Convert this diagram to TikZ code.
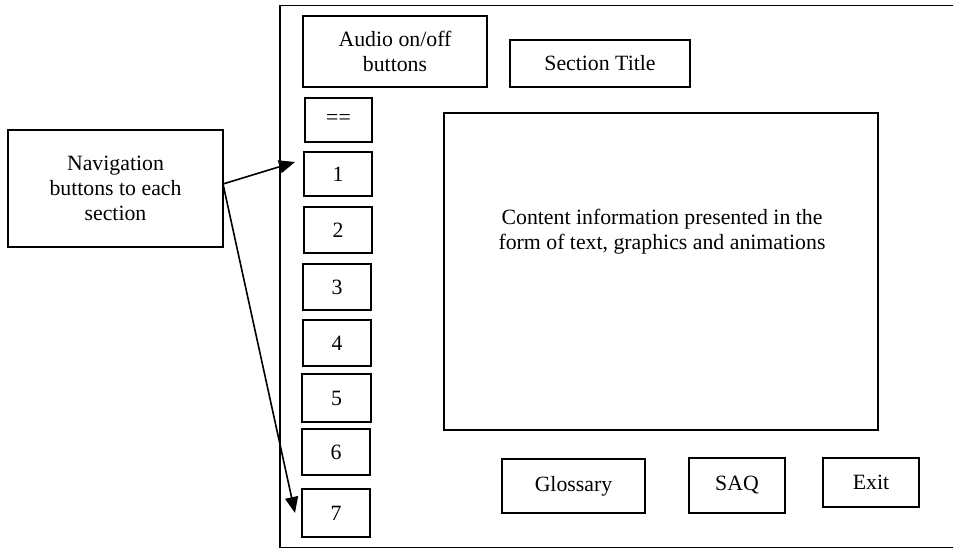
\documentclass[tikz,border=0pt]{standalone}
\usepackage{fontspec}
\setmainfont{Liberation Serif}
\usetikzlibrary{arrows.meta}
\tikzset{
  box/.style={draw, line width=1.6bp, inner sep=0pt, align=center, font=\fontsize{21.8bp}{25bp}\selectfont},
  plain/.style={inner sep=0pt, align=center, font=\fontsize{21.8bp}{25bp}\selectfont},
  conn/.style={line width=1.6bp, -{Triangle[length=16bp,width=13bp]}}
}
\newcommand{\bx}[6]{% name, x1, y1, x2, y2, text
  \node[box, minimum width={(#4-#2)*1bp}, minimum height={(#5-#3)*1bp}] (#1) at ({(#2+#4)/2},{(#3+#5)/2}) {#6};}
\begin{document}
\begin{tikzpicture}[x=1bp,y=-1bp]
\useasboundingbox (0,0) rectangle (953,549);
\fill[white] (0,0) rectangle (953,549);
% outer frame (right edge beyond the picture)
\draw[line width=1.6bp] (1000,5.5) -- (280,5.5) -- (280,547.5) -- (1000,547.5);
\bx{audio}{303}{16}{487}{87}{Audio on/off\\buttons}
\bx{title}{510}{40}{690}{87}{Section Title}
\bx{eq}{305}{98}{372}{142}{==}
\bx{b1}{304}{152}{372}{196}{1}
\bx{b2}{304}{207}{372}{253}{2}
\bx{b3}{303}{264}{371}{310}{3}
\bx{b4}{303}{320}{371}{366}{4}
\bx{b5}{302}{374}{371}{422}{5}
\bx{b6}{302}{429}{370}{475}{6}
\bx{b7}{302}{489}{370}{537}{7}
\bx{nav}{8}{130}{223}{247}{Navigation\\buttons to each\\section}
\bx{content}{444}{113}{878}{430}{}
\node[plain] (ctext) at (662,232) {Content information presented in the\\form of text, graphics and animations};
\bx{gloss}{502}{459}{645}{513}{Glossary}
\bx{saq}{689}{458}{785}{513}{SAQ}
\bx{exit}{823}{458}{919}{507}{Exit}
\coordinate (s) at (223,184);
\coordinate (t1) at (295,162);
\coordinate (t7) at (295,513);
\draw[conn] (s) -- (t1);
\draw[conn] (s) -- (t7);
\end{tikzpicture}
\end{document}
